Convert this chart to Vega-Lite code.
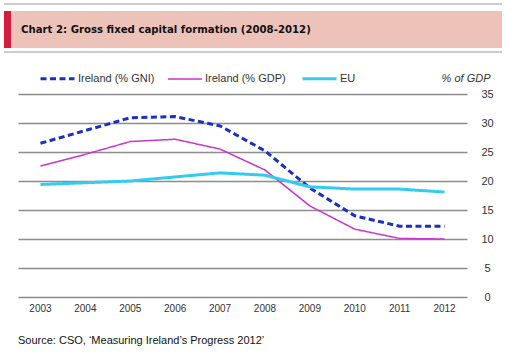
{
  "$schema": "https://vega.github.io/schema/vega-lite/v6.json",
  "background": "white",
  "padding": {"left": 3, "top": 3, "right": 5, "bottom": 5},
  "config": {"view": {"stroke": null}, "font": "Liberation Sans"},
  "bounds": "flush",
  "spacing": 42,
  "vconcat": [
    {
      "width": 449,
      "height": 48,
      "data": {"values": [{"title": "Chart 2: Gross fixed capital formation (2008-2012)"}]},
      "layer": [
        {
          "mark": {"type": "rect", "color": "#EDC3B9"},
          "encoding": {
            "x": {"datum": -14, "type": "quantitative", "scale": {"domain": [0, 449], "nice": false}, "axis": null},
            "x2": {"datum": 484},
            "y": {"datum": 7, "type": "quantitative", "scale": {"domain": [0, 48], "nice": false, "reverse": true}, "axis": null},
            "y2": {"datum": 44}
          }
        },
        {
          "mark": {"type": "rect", "color": "#D21E3C"},
          "encoding": {
            "x": {"datum": -14, "type": "quantitative"},
            "x2": {"datum": -7},
            "y": {"datum": 7, "type": "quantitative"},
            "y2": {"datum": 44}
          }
        },
        {
          "mark": {"type": "rule", "color": "#999999", "strokeWidth": 1},
          "encoding": {
            "x": {"datum": -14, "type": "quantitative"},
            "x2": {"datum": 484},
            "y": {"datum": 0, "type": "quantitative"}
          }
        },
        {
          "mark": {"type": "rule", "color": "#999999", "strokeWidth": 1},
          "encoding": {
            "x": {"datum": -14, "type": "quantitative"},
            "x2": {"datum": 484},
            "y": {"datum": 48, "type": "quantitative"}
          }
        },
        {
          "mark": {"type": "text", "align": "left", "baseline": "middle", "font": "DejaVu Sans Condensed, Liberation Sans", "fontWeight": "bold", "fontSize": 11.3, "color": "#111111"},
          "encoding": {
            "x": {"datum": 3, "type": "quantitative"},
            "y": {"datum": 25.5, "type": "quantitative"},
            "text": {"field": "title"}
          }
        }
      ]
    },
    {
      "width": 449,
      "height": 203,
      "title": {"text": "Source: CSO, ‘Measuring Ireland’s Progress 2012’", "orient": "bottom", "anchor": "start", "fontSize": 11, "fontWeight": "normal", "color": "#111111", "offset": 22, "font": "Liberation Sans"},
      "data": {"values": [
        {"year": "2003", "series": "Ireland (% GNI)", "value": 26.5},
        {"year": "2004", "series": "Ireland (% GNI)", "value": 28.7},
        {"year": "2005", "series": "Ireland (% GNI)", "value": 30.9},
        {"year": "2006", "series": "Ireland (% GNI)", "value": 31.1},
        {"year": "2007", "series": "Ireland (% GNI)", "value": 29.5},
        {"year": "2008", "series": "Ireland (% GNI)", "value": 25.2},
        {"year": "2009", "series": "Ireland (% GNI)", "value": 18.8},
        {"year": "2010", "series": "Ireland (% GNI)", "value": 14.0},
        {"year": "2011", "series": "Ireland (% GNI)", "value": 12.2},
        {"year": "2012", "series": "Ireland (% GNI)", "value": 12.2},
        {"year": "2003", "series": "Ireland (% GDP)", "value": 22.6},
        {"year": "2004", "series": "Ireland (% GDP)", "value": 24.6},
        {"year": "2005", "series": "Ireland (% GDP)", "value": 26.8},
        {"year": "2006", "series": "Ireland (% GDP)", "value": 27.2},
        {"year": "2007", "series": "Ireland (% GDP)", "value": 25.5},
        {"year": "2008", "series": "Ireland (% GDP)", "value": 21.9},
        {"year": "2009", "series": "Ireland (% GDP)", "value": 15.7},
        {"year": "2010", "series": "Ireland (% GDP)", "value": 11.7},
        {"year": "2011", "series": "Ireland (% GDP)", "value": 10.1},
        {"year": "2012", "series": "Ireland (% GDP)", "value": 10.0},
        {"year": "2003", "series": "EU", "value": 19.4},
        {"year": "2004", "series": "EU", "value": 19.7},
        {"year": "2005", "series": "EU", "value": 20.0},
        {"year": "2006", "series": "EU", "value": 20.7},
        {"year": "2007", "series": "EU", "value": 21.4},
        {"year": "2008", "series": "EU", "value": 21.0},
        {"year": "2009", "series": "EU", "value": 19.0},
        {"year": "2010", "series": "EU", "value": 18.6},
        {"year": "2011", "series": "EU", "value": 18.6},
        {"year": "2012", "series": "EU", "value": 18.1}
      ]},
      "mark": {"type": "line"},
      "encoding": {
        "x": {
          "field": "year", "type": "ordinal",
          "scale": {"type": "band", "paddingInner": 0, "paddingOuter": 0},
          "axis": {"title": null, "labelAngle": 0, "domain": false, "ticks": false, "grid": false, "labelPadding": 6, "labelFontSize": 10, "labelColor": "#333333"}
        },
        "y": {
          "field": "value", "type": "quantitative",
          "scale": {"domain": [0, 35], "nice": false},
          "axis": {
            "orient": "right", "values": [0, 5, 10, 15, 20, 25, 30, 35],
            "title": "% of GDP", "titleAngle": 0, "titleAlign": "right", "titleBaseline": "middle", "titleX": 23, "titleY": -16,
            "titleFontStyle": "italic", "titleFontWeight": "normal", "titleFontSize": 11, "titleColor": "#333333",
            "domain": false, "ticks": false, "grid": true, "gridColor": "#8c8c8c", "gridWidth": 1.3,
            "labelAlign": "center", "labelPadding": 20, "labelFontSize": 11, "labelColor": "#333333"
          }
        },
        "color": {
          "field": "series", "type": "nominal",
          "scale": {"domain": ["Ireland (% GNI)", "Ireland (% GDP)", "EU"], "range": ["#1a2fc4", "#cc33cc", "#33ccf0"]},
          "legend": {
            "title": null, "orient": "none", "legendX": 21, "legendY": 56, "direction": "horizontal",
            "symbolType": "stroke", "symbolSize": 1156, "labelFontSize": 11, "labelColor": "#333333",
            "labelOffset": 2, "columnPadding": 10
          }
        },
        "strokeDash": {
          "field": "series", "type": "nominal",
          "scale": {"domain": ["Ireland (% GNI)", "Ireland (% GDP)", "EU"], "range": [[6, 3.5], [1, 0], [1, 0]]}
        },
        "strokeWidth": {
          "field": "series", "type": "nominal",
          "scale": {"type": "ordinal", "domain": ["Ireland (% GNI)", "Ireland (% GDP)", "EU"], "range": [3, 1.5, 3]}
        }
      }
    }
  ]
}
